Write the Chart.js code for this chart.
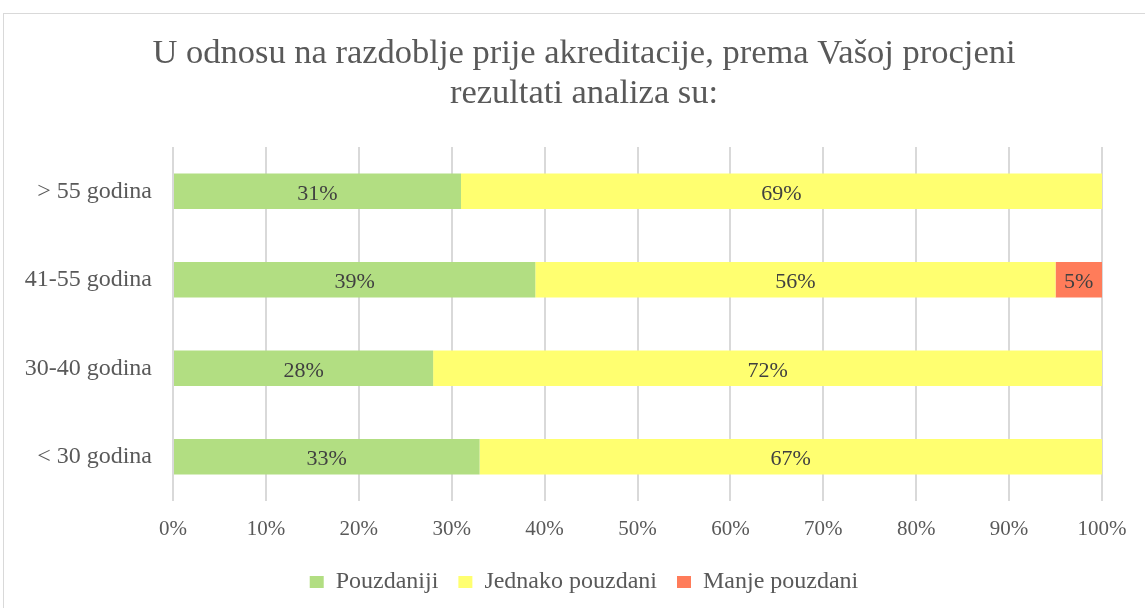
<!DOCTYPE html>
<html>
<head>
<meta charset="utf-8">
<script src="https://cdn.jsdelivr.net/npm/chart.js@4"></script>
<style>
  body { margin: 0; overflow: hidden; background: #fff; }
  #okvir { position: absolute; left: 3px; top: 13px; width: 1160px; height: 600px; border: 1px solid #d9d9d9; }
</style>
</head>
<body>
<div id="okvir"><canvas id="grafikon" width="1160" height="600"></canvas></div>
<script>
// Podaci s grafikona
const kategorije = ['> 55 godina', '41-55 godina', '30-40 godina', '< 30 godina'];
const pouzdaniji = [31, 39, 28, 33];
const jednako = [69, 56, 72, 67];
const manje = [0, 5, 0, 0];
const xOznake = [0, 10, 20, 30, 40, 50, 60, 70, 80, 90, 100];

const font = 'Liberation Serif';

// Plugin koji ispisuje postotke u sredini svakog stupca
const oznakeStupaca = {
  id: 'oznakeStupaca',
  afterDatasetsDraw(chart) {
    const ctx = chart.ctx;
    ctx.save();
    ctx.font = '22px "' + font + '"';
    ctx.fillStyle = '#404040';
    ctx.textAlign = 'center';
    ctx.textBaseline = 'middle';
    chart.data.datasets.forEach((ds, i) => {
      chart.getDatasetMeta(i).data.forEach((bar, j) => {
        const v = ds.data[j];
        if (!v) return;
        ctx.fillText(v + '%', (bar.x + bar.base) / 2, bar.y + 2.5);
      });
    });
    ctx.restore();
  }
};

const ctx = document.getElementById('grafikon');

new Chart(ctx, {
  type: 'bar',
  data: {
    labels: kategorije,
    datasets: [
      { label: 'Pouzdaniji', data: pouzdaniji, backgroundColor: '#B2DE82' },
      { label: 'Jednako pouzdani', data: jednako, backgroundColor: '#FFFF70' },
      { label: 'Manje pouzdani', data: manje, backgroundColor: '#FF7C5A' }
    ]
  },
  options: {
    indexAxis: 'y',
    responsive: false,
    animation: false,
    barPercentage: 0.4,
    categoryPercentage: 1,
    layout: { padding: { left: 0, right: 0, top: 0, bottom: 10 } },
    plugins: {
      title: {
        display: true,
        text: ['U odnosu na razdoblje prije akreditacije, prema Vašoj procjeni', 'rezultati analiza su:'],
        color: '#595959',
        font: { family: font, size: 34.5, weight: 'normal', lineHeight: '40px' },
        padding: { top: 20, bottom: 33 }
      },
      legend: {
        position: 'bottom',
        labels: {
          color: '#595959',
          font: { family: font, size: 24 },
          boxWidth: 14,
          boxHeight: 12,
          padding: 20
        }
      },
      tooltip: { enabled: false }
    },
    scales: {
      x: {
        stacked: true,
        min: 0,
        max: 100,
        afterBuildTicks: s => { s.ticks = xOznake.map(v => ({ value: v })); },
        ticks: {
          color: '#595959',
          font: { family: font, size: 21 },
          padding: 16,
          callback: v => v + '%'
        },
        grid: { color: '#d9d9d9', lineWidth: 2, drawTicks: false },
        border: { display: false },
        afterFit: s => { s.height = 49; }
      },
      y: {
        stacked: true,
        ticks: {
          color: '#595959',
          font: { family: font, size: 24 },
          padding: 21
        },
        grid: { display: false, drawTicks: false },
        border: { display: false },
        afterFit: s => { s.width = 169; }
      },
      // prazna os desno, samo za razmak
      y2: {
        position: 'right',
        ticks: { display: false },
        grid: { display: false, drawTicks: false },
        border: { display: false },
        afterFit: s => { s.width = 62; }
      }
    }
  },
  plugins: [oznakeStupaca]
});
</script>
</body>
</html>
